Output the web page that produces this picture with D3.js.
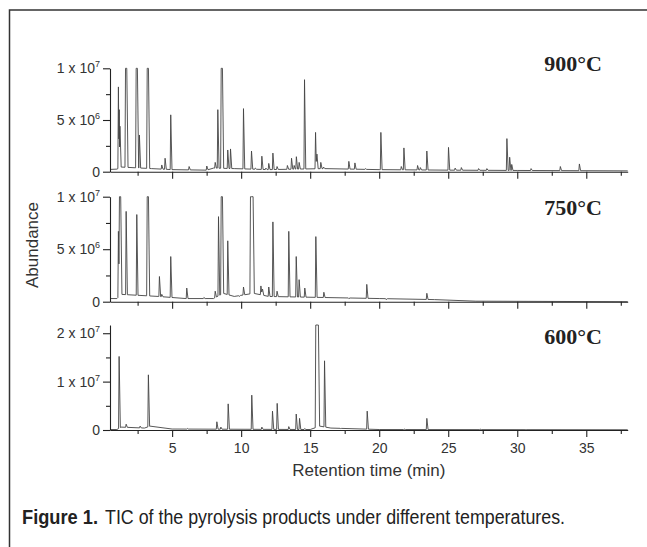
<!DOCTYPE html>
<html>
<head>
<meta charset="utf-8">
<script src="https://cdn.jsdelivr.net/npm/d3@7/dist/d3.min.js"></script>
<style>
  html, body { margin: 0; padding: 0; background: #fff; }
  svg { display: block; }
</style>
</head>
<body>
<svg id="chart" width="647" height="547"></svg>
<script>
// ---------------- DATA ----------------
const xMajorTicks = [5, 10, 15, 20, 25, 30, 35];
const xMinorTicks = [2.5, 7.5, 12.5, 17.5, 22.5, 27.5, 32.5, 37.5];
const xDomain = [0.5, 38];

const panelLabels = ["900°C", "750°C", "600°C"];

// y ticks per panel
const yMajor900 = [0, 5e6, 1e7];
const yMinor900 = [2.5e6, 7.5e6];
const yLabels900 = [["0", ""], ["5 x 10", "6"], ["1 x 10", "7"]];
const yMajor750 = [0, 5e6, 1e7];
const yMinor750 = [2.5e6, 7.5e6];
const yLabels750 = [["0", ""], ["5 x 10", "6"], ["1 x 10", "7"]];
const yMajor600 = [0, 1e7, 2e7];
const yMinor600 = [5e6, 1.5e7];
const yLabels600 = [["0", ""], ["1 x 10", "7"], ["2 x 10", "7"]];

const yTop900 = 1e7, yTop750 = 1e7, yTop600 = 2.17e7;

// peaks (retention time, min ; abundance)
const peakT900 = [1.11, 1.17, 1.22, 1.67, 2.44, 2.63, 3.24, 4.25, 4.49, 4.90, 6.23, 7.51, 8.12, 8.31, 8.60,
  9.03, 9.23, 10.17, 10.75, 11.03, 11.50, 11.79, 12.00, 12.30, 12.60, 13.35, 13.65, 13.84, 14.00, 14.20,
  14.59, 15.39, 15.49, 15.77, 15.97, 17.80, 18.24, 19.00, 20.12, 21.60, 21.79, 22.78, 22.98, 23.45,
  25.02, 25.50, 25.95, 27.20, 27.80, 29.25, 29.45, 29.60, 31.00, 33.12, 34.50];
const peakH900 = [8.2e6, 6.0e6, 4.4e6, 1e7, 1e7, 3.55e6, 1e7, 0.65e6, 1.3e6, 5.5e6, 0.5e6, 0.55e6, 0.9e6, 6.0e6, 1e7,
  2.1e6, 2.2e6, 6.1e6, 2.0e6, 0.35e6, 1.5e6, 0.35e6, 0.8e6, 1.8e6, 0.5e6, 0.6e6, 1.3e6, 0.6e6, 1.45e6, 0.9e6,
  8.9e6, 3.8e6, 1.7e6, 0.9e6, 0.45e6, 1.0e6, 0.85e6, 0.3e6, 3.8e6, 0.5e6, 2.3e6, 0.6e6, 0.4e6, 2.0e6,
  2.35e6, 0.35e6, 0.4e6, 0.3e6, 0.3e6, 3.2e6, 1.4e6, 0.7e6, 0.3e6, 0.5e6, 0.75e6];
const baseT900 = [0.5, 1.0, 1.3, 3.5, 5.0, 7.5, 8.0, 9.5, 12, 16, 20, 25, 30, 38];
const baseV900 = [0.22e6, 0.25e6, 0.45e6, 0.3e6, 0.2e6, 0.15e6, 0.35e6, 0.3e6, 0.2e6, 0.3e6, 0.2e6, 0.15e6, 0.12e6, 0.08e6];

const peakT750 = [1.11, 1.23, 1.67, 2.44, 3.24, 4.08, 4.25, 4.90, 6.06, 7.30, 8.12, 8.36, 8.60, 9.03, 9.86,
  10.17, 10.72, 10.82, 11.43, 11.55, 12.00, 12.30, 12.60, 13.45, 13.99, 14.20, 14.61, 15.41, 15.99, 17.80,
  19.10, 20.50, 23.45];
const peakH750 = [6.7e6, 1e7, 8.6e6, 8.3e6, 1e7, 2.4e6, 0.7e6, 4.3e6, 1.3e6, 0.4e6, 1.0e6, 8.1e6, 1e7, 5.8e6, 0.5e6,
  1.4e6, 1e7, 1e7, 1.5e6, 1.2e6, 1.4e6, 7.6e6, 1.0e6, 6.7e6, 4.3e6, 2.1e6, 1.3e6, 6.2e6, 0.9e6, 0.3e6,
  1.65e6, 0.2e6, 0.8e6];
const baseT750 = [0.5, 1.0, 1.3, 4.0, 6.0, 8.0, 8.7, 9.5, 10.9, 12, 16, 20, 24, 27, 38];
const baseV750 = [0.3e6, 0.3e6, 0.7e6, 0.5e6, 0.3e6, 0.3e6, 0.8e6, 0.5e6, 0.8e6, 0.5e6, 0.4e6, 0.3e6, 0.2e6, 0.05e6, 0.0];

const peakT600 = [1.16, 1.67, 2.68, 3.28, 6.10, 8.24, 8.53, 9.06, 10.77, 11.50, 12.27, 12.61, 13.45, 13.99,
  14.23, 14.60, 15.45, 15.55, 16.04, 17.20, 19.13, 21.80, 23.45, 27.30, 30.60];
const peakH600 = [1.52e7, 1.2e6, 0.8e6, 1.14e7, 0.3e6, 1.7e6, 0.6e6, 5.4e6, 7.2e6, 0.6e6, 3.9e6, 5.5e6, 0.7e6, 3.3e6,
  2.4e6, 0.3e6, 2.17e7, 2.17e7, 1.43e7, 0.3e6, 3.9e6, 0.2e6, 2.4e6, 0.2e6, 0.1e6];
const baseT600 = [0.5, 1.0, 1.3, 3.0, 3.4, 5.0, 15.0, 15.7, 16.5, 20, 38];
const baseV600 = [0.1e6, 0.1e6, 0.6e6, 0.4e6, 0.8e6, 0.2e6, 0.1e6, 0.8e6, 0.4e6, 0.1e6, 0.05e6];

// ---------------- LAYOUT ----------------
const svg = d3.select("#chart");
const left = 110, right = 627.7;
const panels = [
  { y0: 171.7, y1: 68.3, top: yTop900, T: peakT900, H: peakH900, bT: baseT900, bV: baseV900,
    maj: yMajor900, min: yMinor900, lab: yLabels900, name: panelLabels[0], ly: 71, showX: false },
  { y0: 301.7, y1: 196.7, top: yTop750, T: peakT750, H: peakH750, bT: baseT750, bV: baseV750,
    maj: yMajor750, min: yMinor750, lab: yLabels750, name: panelLabels[1], ly: 215, showX: false },
  { y0: 430, y1: 325, top: yTop600, T: peakT600, H: peakH600, bT: baseT600, bV: baseV600,
    maj: yMajor600, min: yMinor600, lab: yLabels600, name: panelLabels[2], ly: 344, showX: true }
];

const x = d3.scaleLinear().domain(xDomain).range([left, right]);

// frame
svg.append("path").attr("d", "M9.5,547 L9.5,10 L647,10")
  .attr("fill", "none").attr("stroke", "#333").attr("stroke-width", 1.5);

const rise = 0.04, fall = 0.09, flat = 0.045;

panels.forEach(p => {
  const y = d3.scaleLinear().domain([0, p.top]).range([p.y0, p.y1]);
  const base = d3.scaleLinear().domain(p.bT).range(p.bV).clamp(true);
  const g = svg.append("g");
  const sat = p.top * 0.999;

  // peak geometry: apex span and feet
  const pk = p.T.map((t, i) => {
    const h = Math.min(p.H[i], p.top);
    const s = h >= sat;
    const a0 = s ? t - flat : t, a1 = s ? t + flat : t;
    return { t, h, s, a0, a1, L: a0 - rise, R: a1 + fall };
  });

  const pts = [];
  pk.forEach((q, i) => {
    const prev = i > 0 ? pk[i - 1] : null;
    if (prev && q.L < prev.R) {
      pts.pop();
      const tv = (prev.a1 + q.a0) / 2;
      const b = base(tv);
      const v = (q.s && prev.s) ? p.top : b + 0.5 * (Math.min(q.h, prev.h) - b);
      pts.push([tv, v]);
    } else {
      pts.push([q.L, base(q.L)]);
    }
    if (q.s) { pts.push([q.a0, p.top]); pts.push([q.a1, p.top]); }
    else pts.push([q.t, q.h]);
    pts.push([q.R, base(q.R)]);
  });
  // add baseline knots that fall outside the peaks
  p.bT.forEach((bt, k) => {
    const inside = pk.some(q => bt >= q.L - 0.01 && bt <= q.R + 0.01);
    if (!inside) pts.push([bt, p.bV[k]]);
  });
  pts.sort((a, b) => a[0] - b[0]);

  const line = d3.line().x(d => x(d[0])).y(d => y(d[1]));
  g.append("path").datum(pts).attr("d", line)
    .attr("fill", "none").attr("stroke", "#444").attr("stroke-width", 0.9)
    .attr("stroke-linejoin", "round");

  // x axis
  const xa = g.append("g").attr("transform", `translate(0,${p.y0})`);
  xa.call(d3.axisBottom(x).tickValues(xMajorTicks).tickSize(7).tickSizeOuter(0)
    .tickFormat(p.showX ? d3.format("d") : ""));
  const xm = g.append("g").attr("transform", `translate(0,${p.y0})`);
  xm.call(d3.axisBottom(x).tickValues(xMinorTicks).tickSize(4).tickSizeOuter(0).tickFormat(""));
  xm.select(".domain").remove();

  // y axis
  const ya = g.append("g").attr("transform", `translate(${left},0)`);
  ya.call(d3.axisLeft(y).tickValues(p.maj).tickSize(7).tickSizeOuter(0).tickFormat(""));
  const ym = g.append("g").attr("transform", `translate(${left},0)`);
  ym.call(d3.axisLeft(y).tickValues(p.min).tickSize(4).tickSizeOuter(0).tickFormat(""));
  ym.select(".domain").remove();

  [xa, xm, ya, ym].forEach(a => {
    a.selectAll(".domain").attr("stroke", "#222").attr("stroke-width", 1.1);
    a.selectAll(".tick line").attr("stroke", "#222").attr("stroke-width", 1.1);
  });
  xa.selectAll(".tick text").attr("font-family", "Liberation Sans, Arial, sans-serif")
    .attr("font-size", 14).attr("fill", "#333").attr("dy", "0.95em");

  // y tick labels with superscript
  p.maj.forEach((v, k) => {
    const t = g.append("text").attr("x", left - 10).attr("y", y(v) + 5)
      .attr("text-anchor", "end").attr("font-family", "Liberation Sans, Arial, sans-serif")
      .attr("font-size", 14).attr("fill", "#333");
    t.append("tspan").text(p.lab[k][0]);
    if (p.lab[k][1]) {
      t.append("tspan").attr("dy", -6).attr("font-size", 9).text(p.lab[k][1]);
    }
  });

  // temperature label
  g.append("text").attr("x", 602).attr("y", p.ly).attr("text-anchor", "end")
    .attr("font-family", "Liberation Serif, Times New Roman, serif").attr("font-weight", "bold")
    .attr("font-size", 22).attr("fill", "#222").text(p.name);
});

// axis titles
svg.append("text").attr("x", (left + right) / 2).attr("y", 476).attr("text-anchor", "middle")
  .attr("font-family", "Liberation Sans, Arial, sans-serif").attr("font-size", 17).attr("fill", "#333")
  .text("Retention time (min)");
svg.append("text").attr("transform", "translate(38,245) rotate(-90)").attr("text-anchor", "middle")
  .attr("font-family", "Liberation Sans, Arial, sans-serif").attr("font-size", 17).attr("fill", "#333")
  .text("Abundance");

// caption (condensed look)
svg.append("text").attr("x", 22).attr("y", 524)
  .attr("font-family", "Liberation Sans, Arial, sans-serif").attr("font-size", 20).attr("font-weight", "bold")
  .attr("fill", "#222").attr("textLength", 76).attr("lengthAdjust", "spacingAndGlyphs")
  .text("Figure 1.");
svg.append("text").attr("x", 105).attr("y", 524)
  .attr("font-family", "Liberation Sans, Arial, sans-serif").attr("font-size", 20)
  .attr("fill", "#222").attr("textLength", 460).attr("lengthAdjust", "spacingAndGlyphs")
  .text("TIC of the pyrolysis products under different temperatures.");
</script>
</body>
</html>
